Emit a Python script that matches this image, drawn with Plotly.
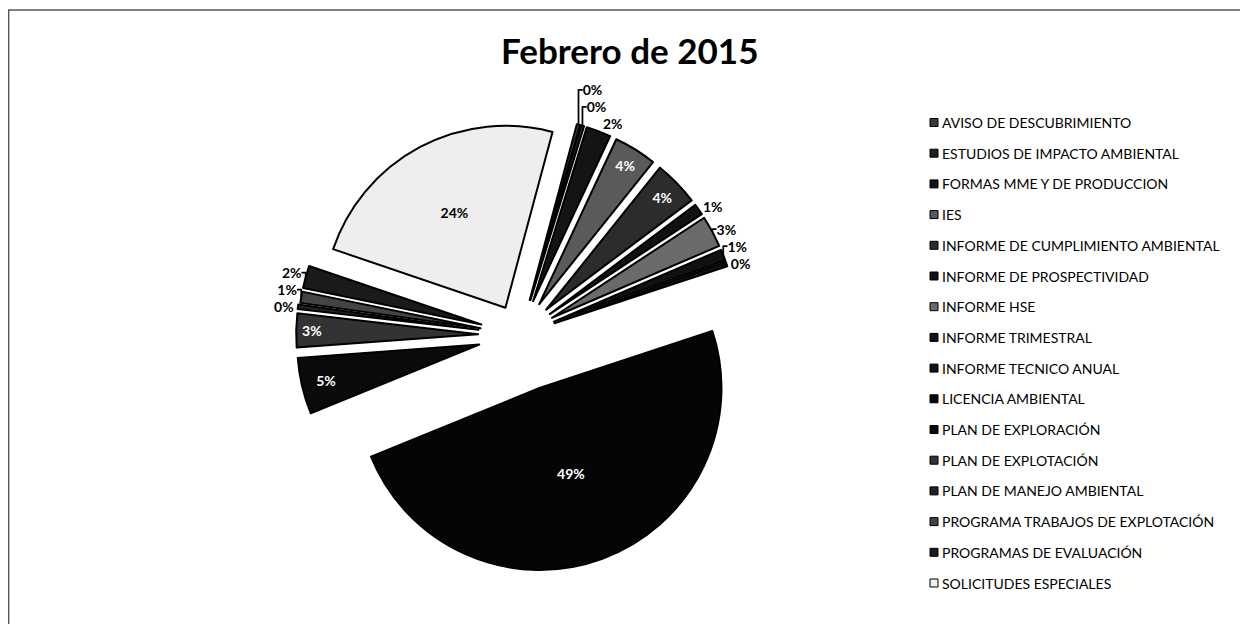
import plotly.graph_objects as go

W, H = 1248, 624
OFF = 8  # page body margin of the browser page

categories = [
    "AVISO DE DESCUBRIMIENTO",
    "ESTUDIOS DE IMPACTO AMBIENTAL",
    "FORMAS MME Y DE PRODUCCION",
    "IES",
    "INFORME DE CUMPLIMIENTO AMBIENTAL",
    "INFORME DE PROSPECTIVIDAD",
    "INFORME HSE",
    "INFORME TRIMESTRAL",
    "INFORME TECNICO ANUAL",
    "LICENCIA AMBIENTAL",
    "PLAN DE EXPLORACIÓN",
    "PLAN DE EXPLOTACIÓN",
    "PLAN DE MANEJO AMBIENTAL",
    "PROGRAMA TRABAJOS DE EXPLOTACIÓN",
    "PROGRAMAS DE EVALUACIÓN",
    "SOLICITUDES ESPECIALES",
]
share_pct = [0.3, 0.3, 2.2, 3.8, 4.0, 1.0, 2.8, 1.0, 0.4, 49.0, 5.0, 3.0, 0.4, 1.0, 2.0, 24.0]

colors = ["#3a3a3a", "#1e1e1e", "#141414", "#5a5a5a", "#2c2c2c", "#111111", "#6a6a6a", "#111111",
          "#111111", "#050505", "#0a0a0a", "#333333", "#222222", "#444444", "#1a1a1a", "#eeeeee"]
pulls = [0.2, 0.2, 0.2, 0.2, 0.2, 0.2, 0.2, 0.2, 0.2, 0.31, 0.23, 0.23, 0.23, 0.22, 0.22, 0.17]
textpos = ["outside", "outside", "outside", "inside", "inside", "outside", "outside", "outside",
           "outside", "inside", "inside", "inside", "outside", "outside", "outside", "inside"]
inside_col = ["black" if c == "#eeeeee" else "white" for c in colors]

FONT = "Lato"


def px(x):
    return (x - OFF) / W


def py(y):
    return 1 - (y - OFF) / H


# pie centre (520, 335) px, radius ~182 px, max pull 0.31 -> box half-size ~238 px
cx, cy, half = 520, 335, 238.4
fig = go.Figure()
fig.add_trace(go.Pie(
    labels=categories,
    values=share_pct,
    sort=False,
    direction="clockwise",
    rotation=15,
    pull=pulls,
    marker=dict(colors=colors, line=dict(color="black", width=2)),
    texttemplate="%{percent:.0%}",
    textposition=textpos,
    insidetextorientation="horizontal",
    insidetextfont=dict(family=FONT, size=14, color=inside_col, weight="bold"),
    outsidetextfont=dict(family=FONT, size=14, color="black", weight="bold"),
    hoverinfo="skip",
    showlegend=False,
    automargin=False,
    domain=dict(x=[px(cx - 280), px(cx + 280)], y=[py(cy + half), py(cy - half)]),
))

shapes = [dict(type="rect", xref="paper", yref="paper", x0=0.0005, x1=px(1246), y0=-0.1, y1=py(10),
               line=dict(color="#555555", width=1.5), fillcolor="rgba(0,0,0,0)", layer="below")]
annotations = [dict(text="<b>Febrero de 2015</b>", xref="paper", yref="paper", x=px(629), y=py(50),
                    xanchor="center", yanchor="middle", showarrow=False,
                    font=dict(family=FONT, size=35, color="black"))]

y0, dy = 122.5, 30.7
for i, (cat, col) in enumerate(zip(categories, colors)):
    yc = y0 + i * dy
    shapes.append(dict(type="rect", xref="paper", yref="paper", x0=px(930), x1=px(938),
                       y0=py(yc + 4), y1=py(yc - 4), fillcolor=col,
                       line=dict(color="black", width=1)))
    annotations.append(dict(text=cat, xref="paper", yref="paper", x=px(940), y=py(yc),
                            xanchor="left", yanchor="middle", showarrow=False,
                            font=dict(family=FONT, size=14, color="black")))

fig.update_layout(
    width=W, height=H,
    margin=dict(l=0, r=0, t=0, b=0, autoexpand=False),
    paper_bgcolor="white",
    plot_bgcolor="white",
    shapes=shapes,
    annotations=annotations,
    showlegend=False,
)

fig.write_html("out.html")
